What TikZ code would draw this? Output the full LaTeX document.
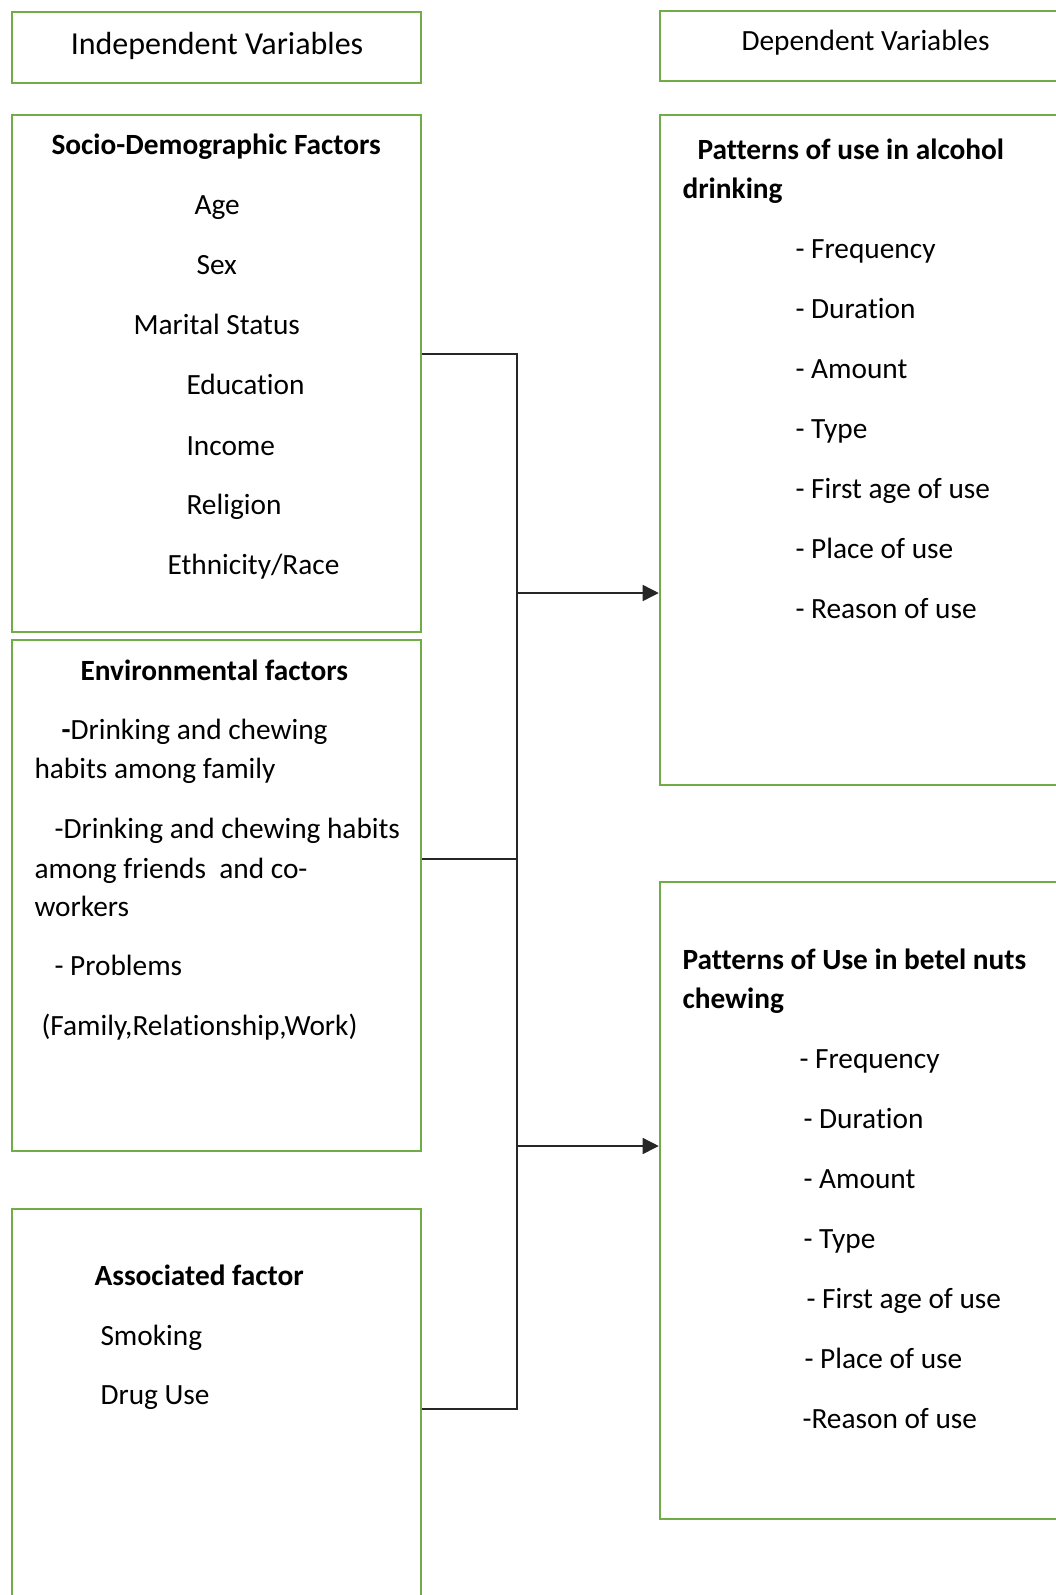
\documentclass[tikz,border=0pt]{standalone}
\usepackage{fontspec}
\setmainfont{Carlito}[Ligatures=NoCommon]
\usepackage{xcolor}
\usepackage{tikz}
\usetikzlibrary{arrows.meta,positioning,fit,calc}
\definecolor{boxgreen}{HTML}{70AD47}

\begin{document}
\begin{tikzpicture}[
  x=0.375pt, y=-0.375pt,
  font=\fontsize{11}{13}\selectfont,
  frame/.style={draw=boxgreen, line width=0.95pt, inner sep=0pt},
  txt/.style={anchor=base west, inner sep=0pt},
  hd/.style={txt, font=\fontsize{11}{13}\selectfont\bfseries},
  link/.style={draw=black!85, line width=0.55pt},
  arrow/.style={link, -{Triangle[length=6pt, width=6pt]}}
]
\useasboundingbox (0,0) rectangle (1056,1595);
\clip (0,0) rectangle (1056,1595);

\node[frame, fit={(12,12) (421,83)}]     (indep) {};
\node[frame, fit={(660,11) (1075,81)}]   (dep)   {};
\node[frame, fit={(12,115) (421,632)}]   (socio) {};
\node[frame, fit={(660,115) (1075,785)}] (alc)   {};
\node[frame, fit={(12,640) (421,1151)}]  (env)   {};
\node[frame, fit={(660,882) (1075,1519)}] (betel) {};
\node[frame, fit={(12,1209) (421,1620)}] (assoc) {};

\node[anchor=base, inner sep=0pt, font=\fontsize{12}{14}\selectfont] (indeptxt) at (217,54) {Independent Variables};
\node[txt] (deptxt) at (741,50) {Dependent Variables};

\node[hd]  (sdhead) at (51,154)  {Socio-Demographic Factors};
\node[txt] (age)    at (194,214) {Age};
\node[txt] (sex)    at (196,274) {Sex};
\node[txt] (marit)  at (133,334) {Marital Status};
\node[txt] (edu)    at (186,394) {Education};
\node[txt] (inc)    at (186,455) {Income};
\node[txt] (relig)  at (186,514) {Religion};
\node[txt] (ethn)   at (167,574) {Ethnicity/Race};

\node[hd]  (envhead) at (80,680)  {Environmental factors};
\node[txt] (fam1)    at (61,739)  {\textbf{-}Drinking and chewing};
\node[txt] (fam2)    at (34,778)  {habits among family};
\node[txt] (frd1)    at (54,838)  {-Drinking and chewing habits};
\node[txt] (frd2)    at (34,878)  {among friends\ \ and co-};
\node[txt] (frd3)    at (34,916)  {workers};
\node[txt] (prob)    at (54,975)  {- Problems};
\node[txt] (probs)   at (41,1035) {(Family,Relationship,Work)};

\node[hd]  (ashead) at (94,1285)  {Associated factor};
\node[txt] (smok)   at (100,1345) {Smoking};
\node[txt] (drug)   at (100,1404) {Drug Use};

\node[hd]  (alchd1) at (697,159)  {Patterns of use in alcohol};
\node[hd]  (alchd2) at (682,198)  {drinking};
\node[txt] (afreq)  at (795,258)  {- Frequency};
\node[txt] (adur)   at (795,318)  {- Duration};
\node[txt] (aamt)   at (795,378)  {- Amount};
\node[txt] (atype)  at (795,438)  {- Type};
\node[txt] (aage)   at (795,498)  {- First age of use};
\node[txt] (aplace) at (795,558)  {- Place of use};
\node[txt] (areas)  at (795,618)  {- Reason of use};

\node[hd]  (bthd1)  at (682,969)  {Patterns of Use in betel nuts};
\node[hd]  (bthd2)  at (682,1008) {chewing};
\node[txt] (bfreq)  at (799,1068) {- Frequency};
\node[txt] (bdur)   at (803,1128) {- Duration};
\node[txt] (bamt)   at (803,1188) {- Amount};
\node[txt] (btype)  at (803,1248) {- Type};
\node[txt] (bage)   at (806,1308) {- First age of use};
\node[txt] (bplace) at (804,1368) {- Place of use};
\node[txt] (breas)  at (802,1428) {-Reason of use};

\coordinate (j1) at (517,354);
\coordinate (j2) at (517,859);
\coordinate (j3) at (517,1409);
\coordinate (ja) at (517,593);
\coordinate (jb) at (517,1146);

\draw[link]  (socio.east |- j1) -- (j1) -- (j3) -- (assoc.east |- j3);
\draw[link]  (env.east |- j2) -- (j2);
\draw[arrow] (ja) -- (alc.west |- ja);
\draw[arrow] (jb) -- (betel.west |- jb);
\end{tikzpicture}
\end{document}
